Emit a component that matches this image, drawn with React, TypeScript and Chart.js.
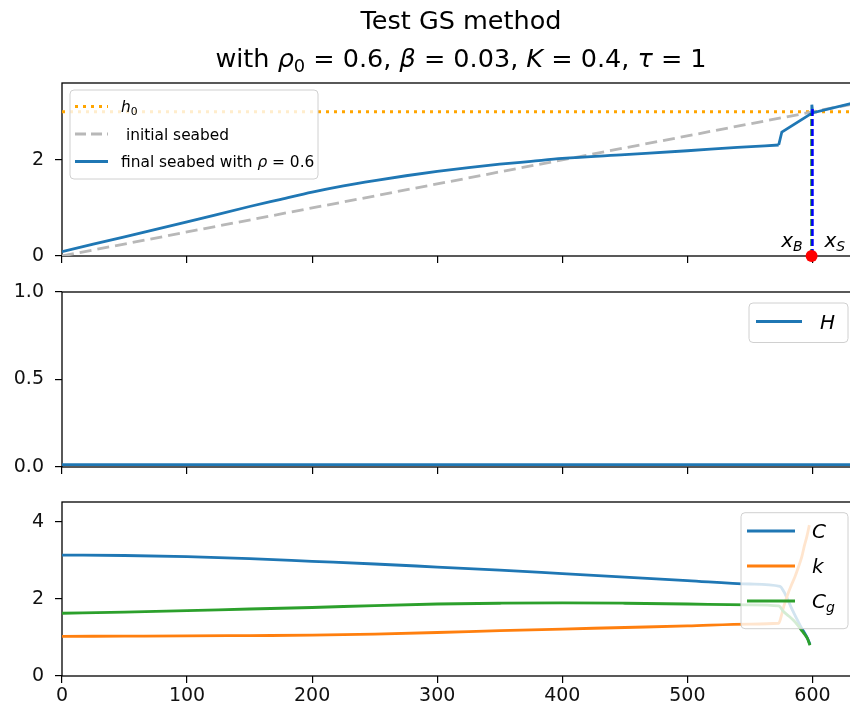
import React, { useEffect, useRef } from "react";
import { Chart, registerables } from "chart.js";
Chart.register(...registerables);

const FONT = '"DejaVu Sans", "Liberation Sans", sans-serif';

// shared x axis
const X_MIN = 0;
const X_MAX = 638;
const X_TICKS = [0, 100, 200, 300, 400, 500, 600];

// top panel
const H0_X = [0, 638];
const H0_VALUES = [3.0, 3.0];
const INIT_X = [0, 638];
const INIT_SEABED = [0, 3.19];
// final seabed: smooth offshore part and the sharp near-shore part
const FINAL_X = [0, 50, 100, 150, 175, 200, 225, 250, 275, 300, 325, 350, 375, 400, 450, 500, 540, 573];
const FINAL_SEABED = [0.09, 0.4, 0.71, 1.03, 1.18, 1.33, 1.46, 1.57, 1.67, 1.76, 1.84, 1.91, 1.97, 2.03, 2.11, 2.19, 2.26, 2.31];
const FINAL_TAIL_X = [573, 575.5, 599.3, 599.5, 600.2, 638];
const FINAL_TAIL = [2.31, 2.58, 2.97, 3.15, 2.98, 3.22];
const X_B = 599.3;
const X_S = 600;
const X_B_TOP = 2.97;
const X_S_TOP = 3.12;
const TOP_Y_MAX = 3.6;
const TOP_Y_TICKS = [0, 2];

// middle panel
const H_X = [0, 100, 200, 300, 400, 500, 600, 638];
const H_VALUES = [0.014, 0.014, 0.014, 0.014, 0.014, 0.014, 0.014, 0.014];
const MID_Y_TICKS = [0, 0.5, 1.0];

// bottom panel
const C_X = [0, 50, 100, 150, 200, 250, 300, 350, 400, 450, 500, 550, 574, 577, 580, 584, 588, 591, 594, 596, 598];
const C_VALUES = [3.14, 3.13, 3.1, 3.05, 2.98, 2.91, 2.83, 2.75, 2.66, 2.57, 2.48, 2.39, 2.33, 2.2, 2.0, 1.71, 1.45, 1.26, 1.1, 0.98, 0.82];
const K_X = [0, 50, 100, 150, 200, 250, 300, 350, 400, 450, 500, 550, 573, 575, 577, 580, 583, 586, 589, 591.5, 593.5, 595.5, 597.5];
const K_VALUES = [1.03, 1.035, 1.04, 1.05, 1.06, 1.09, 1.13, 1.18, 1.22, 1.26, 1.3, 1.35, 1.37, 1.55, 1.8, 2.1, 2.35, 2.58, 2.85, 3.1, 3.38, 3.62, 3.92];
const CG_X = [0, 50, 100, 150, 200, 250, 300, 350, 400, 450, 500, 550, 573, 577, 581, 585, 588, 591, 594, 596, 598];
const CG_VALUES = [1.63, 1.66, 1.7, 1.74, 1.78, 1.83, 1.87, 1.89, 1.9, 1.89, 1.87, 1.85, 1.82, 1.67, 1.56, 1.44, 1.33, 1.2, 1.07, 0.97, 0.8];
const BOT_Y_MAX = 4.52;
const BOT_Y_TICKS = [0, 2, 4];

const BLUE = "#1f77b4";
const ORANGE = "#ff7f0e";
const GREEN = "#2ca02c";

const pts = (xs: number[], ys: number[]) => xs.map((x, i) => ({ x, y: ys[i] }));

type Seg = { t: string; it?: boolean; sub?: boolean };

function fontFor(size: number, s: Seg) {
  const sz = s.sub ? size * 0.7 : size;
  return `${s.it ? "italic " : ""}${sz}px ${FONT}`;
}
function richWidth(ctx: CanvasRenderingContext2D, segs: Seg[], size: number) {
  let w = 0;
  for (const s of segs) {
    ctx.font = fontFor(size, s);
    w += ctx.measureText(s.t).width;
  }
  return w;
}
function drawRich(
  ctx: CanvasRenderingContext2D,
  segs: Seg[],
  x: number,
  y: number,
  size: number,
  align: "left" | "center" | "right" = "left",
  color = "#000"
) {
  const w = richWidth(ctx, segs, size);
  let cx = align === "left" ? x : align === "center" ? x - w / 2 : x - w;
  ctx.save();
  ctx.fillStyle = color;
  ctx.textAlign = "left";
  ctx.textBaseline = "alphabetic";
  for (const s of segs) {
    ctx.font = fontFor(size, s);
    ctx.fillText(s.t, cx, s.sub ? y + size * 0.2 : y);
    cx += ctx.measureText(s.t).width;
  }
  ctx.restore();
}

type LegendEntry = { segs: Seg[]; color: string; dash?: number[]; width: number };
type LegendCfg = {
  anchor: "left" | "right";
  dx: number;
  dy: number;
  w: number;
  h: number;
  size: number;
  lineX0: number;
  lineX1: number;
  textX: number;
  rowY0: number;
  rowStep: number;
  entries: LegendEntry[];
};

function legendPlugin(id: string, cfg: LegendCfg) {
  return {
    id,
    afterDatasetsDraw(chart: any) {
      const { ctx, chartArea: a } = chart;
      const bx = cfg.anchor === "left" ? a.left + cfg.dx : a.right - cfg.dx - cfg.w;
      const by = a.top + cfg.dy;
      ctx.save();
      ctx.beginPath();
      const r = 4;
      ctx.moveTo(bx + r, by);
      ctx.lineTo(bx + cfg.w - r, by);
      ctx.quadraticCurveTo(bx + cfg.w, by, bx + cfg.w, by + r);
      ctx.lineTo(bx + cfg.w, by + cfg.h - r);
      ctx.quadraticCurveTo(bx + cfg.w, by + cfg.h, bx + cfg.w - r, by + cfg.h);
      ctx.lineTo(bx + r, by + cfg.h);
      ctx.quadraticCurveTo(bx, by + cfg.h, bx, by + cfg.h - r);
      ctx.lineTo(bx, by + r);
      ctx.quadraticCurveTo(bx, by, bx + r, by);
      ctx.closePath();
      ctx.fillStyle = "rgba(255,255,255,0.8)";
      ctx.fill();
      ctx.strokeStyle = "#d0d0d0";
      ctx.lineWidth = 1;
      ctx.stroke();
      cfg.entries.forEach((e, i) => {
        const ry = by + cfg.rowY0 + i * cfg.rowStep;
        ctx.save();
        ctx.beginPath();
        ctx.strokeStyle = e.color;
        ctx.lineWidth = e.width;
        ctx.setLineDash(e.dash || []);
        ctx.moveTo(bx + cfg.lineX0, ry);
        ctx.lineTo(bx + cfg.lineX1, ry);
        ctx.stroke();
        ctx.restore();
        drawRich(ctx, e.segs, bx + cfg.textX, ry + cfg.size * 0.37, cfg.size, "left", "#000");
      });
      ctx.restore();
    },
  };
}

const framePlugin = {
  id: "frame",
  beforeDatasetsDraw(chart: any) {
    const { ctx, chartArea: a } = chart;
    ctx.save();
    ctx.strokeStyle = "#000";
    ctx.lineWidth = 1.3;
    ctx.strokeRect(a.left, a.top, a.right - a.left, a.bottom - a.top);
    ctx.restore();
  },
};

const TITLE_LINE1: Seg[] = [{ t: "Test GS method" }];
const TITLE_LINE2: Seg[] = [
  { t: "with " },
  { t: "ρ", it: true },
  { t: "0", sub: true },
  { t: " = 0.6, " },
  { t: "β", it: true },
  { t: " = 0.03, " },
  { t: "K", it: true },
  { t: " = 0.4, " },
  { t: "τ", it: true },
  { t: " = 1" },
];

const titlePlugin = {
  id: "richTitle",
  afterDraw(chart: any) {
    const { ctx, chartArea: a } = chart;
    const cx = (a.left + a.right) / 2;
    drawRich(ctx, TITLE_LINE1, cx, 29, 25.5, "center");
    drawRich(ctx, TITLE_LINE2, cx, 67, 25.5, "center");
  },
};

const pointLabelPlugin = {
  id: "pointLabels",
  afterDatasetsDraw(chart: any) {
    const { ctx } = chart;
    const xs = chart.scales.x;
    const ys = chart.scales.y;
    const y0 = ys.getPixelForValue(0);
    drawRich(ctx, [{ t: "x", it: true }, { t: "B", it: true, sub: true }], xs.getPixelForValue(X_B) - 9, y0 - 9, 20, "right");
    drawRich(ctx, [{ t: "x", it: true }, { t: "S", it: true, sub: true }], xs.getPixelForValue(X_S) + 12, y0 - 9, 20, "left");
  },
};

function xScale(showLabels: boolean, height: number) {
  return {
    type: "linear",
    min: X_MIN,
    max: X_MAX,
    afterBuildTicks: (s: any) => {
      s.ticks = X_TICKS.map((v) => ({ value: v }));
    },
    afterFit: (s: any) => {
      s.height = height;
      s.paddingLeft = 0;
      s.paddingRight = 0;
      s.paddingTop = 0;
      s.paddingBottom = 0;
    },
    grid: { drawOnChartArea: false, drawTicks: true, tickLength: 7, color: "#000", lineWidth: 1.2 },
    border: { display: false },
    ticks: {
      display: showLabels,
      autoSkip: false,
      maxRotation: 0,
      padding: 2,
      color: "#111",
      font: { family: FONT, size: 19 },
    },
  };
}

function yScale(min: number, max: number, ticks: number[], digits: number) {
  return {
    type: "linear",
    min,
    max,
    afterBuildTicks: (s: any) => {
      s.ticks = ticks.map((v) => ({ value: v }));
    },
    afterFit: (s: any) => {
      s.width = 62;
      s.paddingLeft = 0;
      s.paddingRight = 0;
      s.paddingTop = 0;
      s.paddingBottom = 0;
    },
    grid: { drawOnChartArea: false, drawTicks: true, tickLength: 7, color: "#000", lineWidth: 1.2 },
    border: { display: false },
    ticks: {
      padding: 11,
      color: "#111",
      font: { family: FONT, size: 19 },
      callback: (v: any) => Number(v).toFixed(digits),
    },
  };
}

function baseOptions(padTop: number, x: any, y: any) {
  return {
    responsive: false,
    animation: false,
    events: [],
    layout: { autoPadding: false, padding: { top: padTop, left: 0, right: 10, bottom: 0 } },
    plugins: { legend: { display: false }, tooltip: { enabled: false }, title: { display: false } },
    scales: { x, y },
  };
}

// matplotlib draws later lines on top; Chart.js draws lower `order` on top
const lineDs = (label: string, data: any[], color: string, width: number, z: number, extra: any = {}) => ({
  label,
  data,
  order: 100 - z,
  borderColor: color,
  backgroundColor: color,
  borderWidth: width,
  pointRadius: 0,
  fill: false,
  tension: 0,
  ...extra,
});

export default function App() {
  const r1 = useRef<HTMLCanvasElement>(null);
  const r2 = useRef<HTMLCanvasElement>(null);
  const r3 = useRef<HTMLCanvasElement>(null);

  useEffect(() => {
    const charts: Chart[] = [];
    const smooth = { cubicInterpolationMode: "monotone" };

    const topLegend = legendPlugin("topLegend", {
      anchor: "left",
      dx: 8,
      dy: 7,
      w: 248,
      h: 89,
      size: 15.4,
      lineX0: 5,
      lineX1: 38,
      textX: 51,
      rowY0: 16.5,
      rowStep: 27.5,
      entries: [
        { segs: [{ t: "h", it: true }, { t: "0", sub: true }], color: "#ffa500", dash: [3, 5], width: 3 },
        { segs: [{ t: " initial seabed" }], color: "#b8b8b8", dash: [11, 5], width: 3 },
        {
          segs: [{ t: "final seabed with " }, { t: "ρ", it: true }, { t: " = 0.6" }],
          color: BLUE,
          width: 3,
        },
      ],
    });

    charts.push(
      new Chart(r1.current!, {
        type: "line",
        data: {
          datasets: [
            lineDs("h0", pts(H0_X, H0_VALUES), "#ffa500", 3, 1, { borderDash: [3, 5] }),
            lineDs("initial seabed", pts(INIT_X, INIT_SEABED), "#b8b8b8", 2.8, 2, { borderDash: [12, 6] }),
            lineDs("final seabed", pts(FINAL_X, FINAL_SEABED), BLUE, 2.8, 3, smooth),
            lineDs("final seabed (near shore)", pts(FINAL_TAIL_X, FINAL_TAIL), BLUE, 2.8, 3),
            lineDs("xB", pts([X_B, X_B], [0, X_B_TOP]), "#008000", 2.5, 4, { borderDash: [7, 3] }),
            lineDs("xS", pts([X_S, X_S], [0, X_S_TOP]), "#0000ff", 2.5, 5, { borderDash: [7, 3] }),
            {
              label: "xB point",
              data: pts([X_B], [0]),
              order: 0,
              showLine: false,
              pointRadius: 6,
              pointBackgroundColor: "#ff0000",
              pointBorderColor: "#ff0000",
              pointBorderWidth: 0,
              clip: false,
            },
          ],
        },
        options: baseOptions(83, xScale(false, 14), yScale(0, TOP_Y_MAX, TOP_Y_TICKS, 0)) as any,
        plugins: [framePlugin, topLegend, pointLabelPlugin, titlePlugin],
      })
    );

    const midLegend = legendPlugin("midLegend", {
      anchor: "right",
      dx: 12,
      dy: 11,
      w: 99,
      h: 39.5,
      size: 20,
      lineX0: 7,
      lineX1: 53,
      textX: 71,
      rowY0: 18.5,
      rowStep: 35,
      entries: [{ segs: [{ t: "H", it: true }], color: BLUE, width: 3 }],
    });

    charts.push(
      new Chart(r2.current!, {
        type: "line",
        data: {
          datasets: [lineDs("H", pts(H_X, H_VALUES), BLUE, 2.8, 1)],
        },
        options: baseOptions(22, xScale(false, 18), yScale(0, 1, MID_Y_TICKS, 1)) as any,
        plugins: [framePlugin, midLegend],
      })
    );

    const botLegend = legendPlugin("botLegend", {
      anchor: "right",
      dx: 12,
      dy: 10.7,
      w: 107,
      h: 116,
      size: 20,
      lineX0: 6,
      lineX1: 54,
      textX: 71,
      rowY0: 18.3,
      rowStep: 35,
      entries: [
        { segs: [{ t: "C", it: true }], color: BLUE, width: 3 },
        { segs: [{ t: "k", it: true }], color: ORANGE, width: 3 },
        { segs: [{ t: "C", it: true }, { t: "g", it: true, sub: true }], color: GREEN, width: 3 },
      ],
    });

    charts.push(
      new Chart(r3.current!, {
        type: "line",
        data: {
          datasets: [
            lineDs("C", pts(C_X, C_VALUES), BLUE, 2.8, 1, smooth),
            lineDs("k", pts(K_X, K_VALUES), ORANGE, 2.8, 2, smooth),
            lineDs("Cg", pts(CG_X, CG_VALUES), GREEN, 2.8, 3, smooth),
          ],
        },
        options: baseOptions(17, xScale(true, 40), yScale(0, BOT_Y_MAX, BOT_Y_TICKS, 0)) as any,
        plugins: [framePlugin, botLegend],
      })
    );

    return () => charts.forEach((c) => c.destroy());
  }, []);

  return (
    <div
      style={{
        position: "fixed",
        left: 0,
        top: 0,
        width: 850,
        height: 716,
        overflow: "hidden",
        background: "#fff",
      }}
    >
      <canvas ref={r1} width={870} height={270} style={{ position: "absolute", left: 0, top: 0 }} />
      <canvas ref={r2} width={870} height={215} style={{ position: "absolute", left: 0, top: 270 }} />
      <canvas ref={r3} width={870} height={231} style={{ position: "absolute", left: 0, top: 485 }} />
    </div>
  );
}
